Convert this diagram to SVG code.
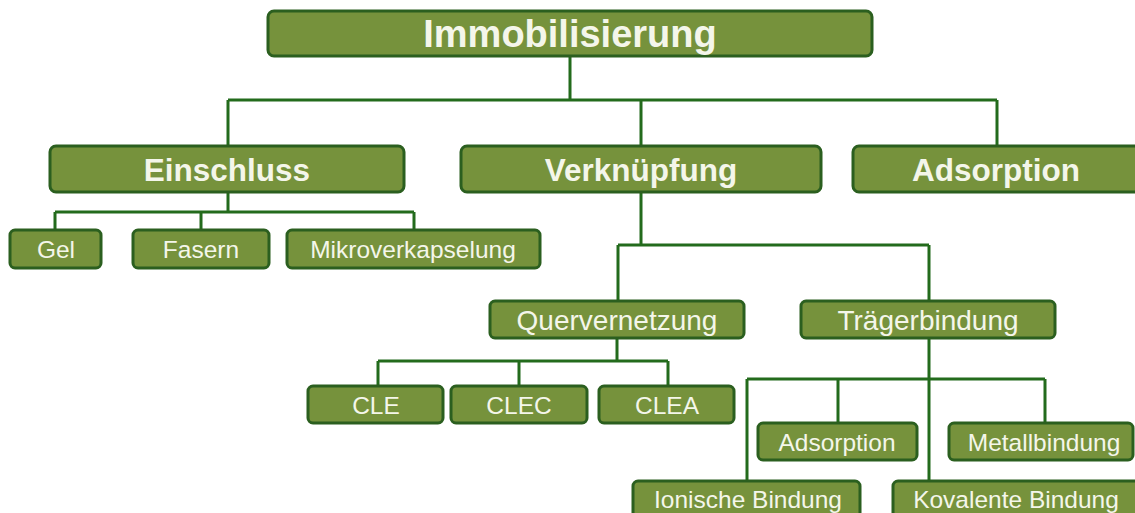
<svg xmlns="http://www.w3.org/2000/svg" width="1135" height="513" viewBox="0 0 1135 513">
<style>
.box{fill:#76923c;stroke:#2b5f1f;stroke-width:3}
.t{fill:#f4f6ea;font-family:"Liberation Sans",Arial,sans-serif;text-anchor:middle;dominant-baseline:central}
.t0{font-size:38px;font-weight:bold}
.t1{font-size:31.5px;font-weight:bold}
.t2{font-size:28px}
.t3{font-size:24.5px}
.c{fill:none;stroke:#236b1c;stroke-width:3}
</style>
<rect width="1135" height="513" fill="#ffffff"/>
<g id="connectors" class="c">
<path d="M570 56V100M228 100H997M228 100V145M641 100V145M997 100V145"/>
<path d="M228 192V212M55 212H414M55 212V230M201 212V230M414 212V230"/>
<path d="M641 192V245M618 245H929M618 245V301M929 245V301"/>
<path d="M617 338V361M378 361H668M378 361V386M519 361V386M668 361V386"/>
<path d="M929 338V481M747 379H1045M747 379V481M838 379V423M1045 379V423"/>
</g>
<g id="immobilisierung"><rect class="box" x="268" y="11" width="604" height="45" rx="6"/><text class="t t0" x="570" y="34">Immobilisierung</text></g>
<g id="einschluss"><rect class="box" x="50" y="146" width="354" height="46" rx="6"/><text class="t t1" x="227" y="170">Einschluss</text></g>
<g id="verknuepfung"><rect class="box" x="461" y="146" width="360" height="46" rx="6"/><text class="t t1" x="641" y="170">Verknüpfung</text></g>
<g id="adsorption1"><rect class="box" x="853" y="146" width="290" height="46" rx="6"/><text class="t t1" x="996" y="170">Adsorption</text></g>
<g id="gel"><rect class="box" x="10" y="230" width="91" height="38" rx="5"/><text class="t t3" x="56" y="249">Gel</text></g>
<g id="fasern"><rect class="box" x="133" y="230" width="136" height="38" rx="5"/><text class="t t3" x="201" y="249">Fasern</text></g>
<g id="mikroverkapselung"><rect class="box" x="287" y="230" width="253" height="38" rx="5"/><text class="t t3" x="413" y="249">Mikroverkapselung</text></g>
<g id="quervernetzung"><rect class="box" x="490" y="301" width="254" height="37" rx="5"/><text class="t t2" x="617" y="320">Quervernetzung</text></g>
<g id="traegerbindung"><rect class="box" x="801" y="301" width="254" height="37" rx="5"/><text class="t t2" x="928" y="320">Trägerbindung</text></g>
<g id="cle"><rect class="box" x="308" y="386" width="135" height="37" rx="5"/><text class="t t3" x="376" y="405">CLE</text></g>
<g id="clec"><rect class="box" x="451" y="386" width="136" height="37" rx="5"/><text class="t t3" x="519" y="405">CLEC</text></g>
<g id="clea"><rect class="box" x="599" y="386" width="135" height="37" rx="5"/><text class="t t3" x="667" y="405">CLEA</text></g>
<g id="adsorption2"><rect class="box" x="758" y="423" width="159" height="37" rx="5"/><text class="t t3" x="837" y="442">Adsorption</text></g>
<g id="metallbindung"><rect class="box" x="949" y="423" width="184" height="37" rx="5"/><text class="t t3" x="1044" y="442">Metallbindung</text></g>
<g id="ionische"><rect class="box" x="633" y="481" width="227" height="40" rx="5"/><text class="t t3" x="748" y="499">Ionische Bindung</text></g>
<g id="kovalente"><rect class="box" x="893" y="481" width="250" height="40" rx="5"/><text class="t t3" x="1016" y="499">Kovalente Bindung</text></g>
</svg>
